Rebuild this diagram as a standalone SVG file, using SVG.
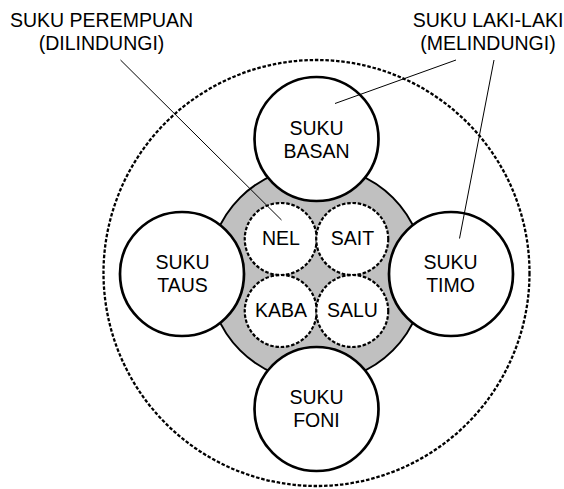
<svg xmlns="http://www.w3.org/2000/svg" width="564" height="489" viewBox="0 0 564 489">
<style>
text{font-family:"Liberation Sans",Arial,sans-serif;font-size:19.5px;fill:#000;text-anchor:middle}
.big{fill:#fff;stroke:#000;stroke-width:2.7}
.small{fill:#fff;stroke:#000;stroke-width:2.2;stroke-dasharray:3.5 1.8}
.outer{fill:none;stroke:#000;stroke-width:2.3;stroke-dasharray:3.5 1.8}
.ring{fill:#c0c0c0;stroke:#000;stroke-width:2}
.lead{stroke:#000;stroke-width:1;fill:none}
</style>
<rect width="564" height="489" fill="#fff"/>
<circle id="boundary" class="outer" cx="316.5" cy="273" r="213"/>
<circle id="core" class="ring" cx="316.5" cy="274" r="108"/>
<g id="nel"><circle class="small" cx="280.75" cy="239" r="36"/><text x="281" y="245">NEL</text></g>
<g id="sait"><circle class="small" cx="352.25" cy="239" r="36"/><text x="352.5" y="245">SAIT</text></g>
<g id="kaba"><circle class="small" cx="280.75" cy="311" r="36"/><text x="281" y="317">KABA</text></g>
<g id="salu"><circle class="small" cx="352.25" cy="311" r="36"/><text x="352.5" y="317">SALU</text></g>
<g id="basan"><circle class="big" cx="316.5" cy="139" r="62"/><text x="316.5" y="134.5">SUKU</text><text x="316.5" y="157.5">BASAN</text></g>
<g id="foni"><circle class="big" cx="316.5" cy="409" r="62"/><text x="316.5" y="404">SUKU</text><text x="316.5" y="427">FONI</text></g>
<g id="taus"><circle class="big" cx="182" cy="274" r="62"/><text x="182.5" y="268.5">SUKU</text><text x="182.5" y="292">TAUS</text></g>
<g id="timo"><circle class="big" cx="451" cy="274" r="62"/><text x="450.5" y="268.5">SUKU</text><text x="450.5" y="292">TIMO</text></g>
<g id="label-perempuan"><text x="101.5" y="26.5">SUKU PEREMPUAN</text><text x="101.5" y="49.5">(DILINDUNGI)</text></g>
<g id="label-laki"><text x="488" y="26.5">SUKU LAKI-LAKI</text><text x="488" y="49.5">(MELINDUNGI)</text></g>
<g id="connectors">
<line class="lead" x1="120.5" y1="60" x2="281.5" y2="220"/>
<line class="lead" x1="456" y1="60" x2="335" y2="103.5"/>
<line class="lead" x1="494" y1="60" x2="459.5" y2="238.5"/>
</g>
</svg>
